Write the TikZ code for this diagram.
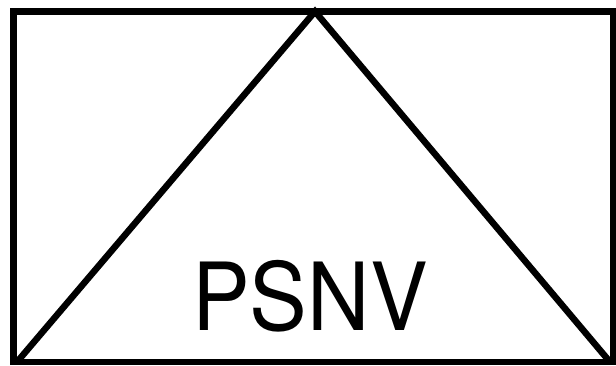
\documentclass[tikz,border=0pt]{standalone}
\usepackage{fontspec}
\setmainfont{TeX Gyre Heros}
\begin{document}
\begin{tikzpicture}[x=1pt,y=1pt,line width=6.5pt,
  edge/.style={draw=black,line join=miter}]
\useasboundingbox (0,0) rectangle (616,365);
\coordinate (tl) at (13.5,353.5);
\coordinate (br) at (613,3);
\coordinate (apex) at (315,353.5);
\coordinate (bl2) at (17,3);
\coordinate (br2) at (610,3);
\draw[edge] (tl) rectangle (br);
\draw[edge] (bl2) -- (apex) -- (br2);
\node[anchor=base,inner sep=0pt,font=\fontsize{94}{94}\selectfont,xscale=0.92] (lbl) at (310,35) {PSNV};
\end{tikzpicture}
\end{document}
